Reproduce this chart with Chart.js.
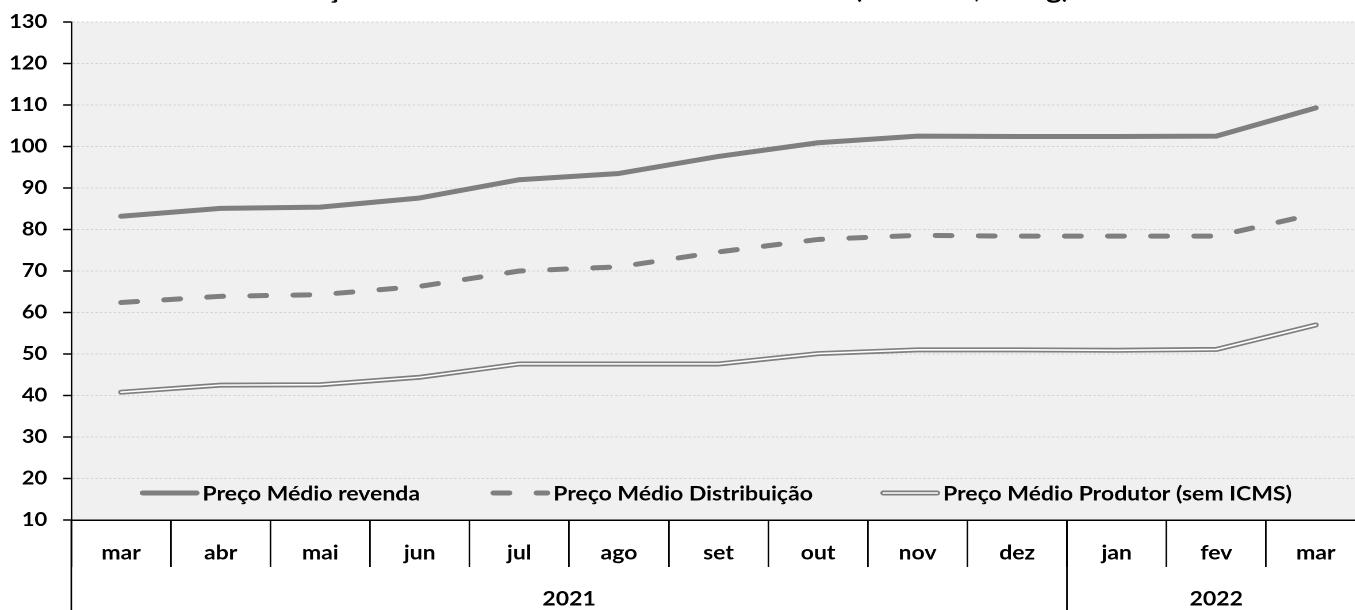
<!DOCTYPE html>
<html lang="pt">
<head>
    <meta charset="UTF-8">
    <title>Preços Médios GLP</title>
    <script src="https://cdn.jsdelivr.net/npm/chart.js"></script>
    <style>
        html, body { margin: 0; padding: 0; background: #fff; overflow: hidden; }
        /* o gráfico original está esticado na horizontal */
        #wrap { position: absolute; left: 0; top: 0; width: 1190px; height: 610px;
                transform: scaleX(1.15); transform-origin: 0 0; }
    </style>
</head>
<body>
    <div id="wrap"><canvas id="chart"></canvas></div>

    <script>
        // dados
        const meses = ["mar", "abr", "mai", "jun", "jul", "ago", "set", "out", "nov", "dez", "jan", "fev", "mar"];
        const anos = ["2021", "2022"];
        const mesesPorAno = [10, 3];
        const precoRevenda = [83.2, 85.1, 85.4, 87.6, 92.0, 93.5, 97.6, 100.9, 102.5, 102.4, 102.4, 102.5, 109.3];
        const precoDistribuicao = [62.4, 63.9, 64.3, 66.3, 70.0, 71.0, 74.6, 77.6, 78.6, 78.4, 78.4, 78.4, 83.8];
        const precoProdutor = [40.8, 42.5, 42.6, 44.4, 47.6, 47.6, 47.6, 50.1, 51.0, 51.0, 50.9, 51.1, 57.0];
        const yTicks = [10, 130, 10]; // min, max, passo
        const titulo = "Evolução Mensal dos Valores Médios do GLP (Em reais, 13 kg)";

        const fonte = "Lato, 'Open Sans', sans-serif";
        const cinza = "#7f7f7f";

        // fundo, legenda, anos e título
        const extras = {
            id: "extras",
            beforeDraw(chart) {
                const { ctx, chartArea: a } = chart;
                ctx.save();
                ctx.fillStyle = "#f0f0f0";
                ctx.fillRect(a.left, a.top, a.right - a.left, a.bottom - a.top);
                ctx.restore();
            },
            afterDraw(chart) {
                const { ctx, chartArea: a } = chart;
                const x = chart.scales.x;
                ctx.save();

                // titulo (quase todo fora da imagem)
                ctx.font = "bold 26px " + fonte;
                ctx.fillStyle = "#000";
                ctx.textAlign = "center";
                ctx.textBaseline = "alphabetic";
                ctx.fillText(titulo, 575, -2);

                // linhas dos anos
                ctx.strokeStyle = "#000";
                ctx.lineWidth = 1.4;
                ctx.beginPath();
                ctx.moveTo(a.left, a.bottom);
                ctx.lineTo(a.left, chart.height);
                let idx = 0;
                const limites = [a.left];
                for (let i = 0; i < anos.length; i++) {
                    idx += mesesPorAno[i];
                    let px = idx < meses.length ? (x.getPixelForTick(idx - 1) + x.getPixelForTick(idx)) / 2 : a.right;
                    limites.push(px);
                    if (idx < meses.length) {
                        ctx.moveTo(px, a.bottom);
                        ctx.lineTo(px, chart.height);
                    }
                }
                ctx.stroke();

                ctx.font = "bold 20px " + fonte;
                ctx.textBaseline = "middle";
                for (let i = 0; i < anos.length; i++) {
                    ctx.fillText(anos[i], (limites[i] + limites[i + 1]) / 2, 599);
                }

                // legenda dentro da area
                const ly = 493;
                const inicio = [124, 429, 768];
                const ds = chart.data.datasets.filter(d => !d.semLegenda);
                ctx.textAlign = "left";
                ds.forEach((d, i) => {
                    const x0 = inicio[i], x1 = x0 + 47;
                    ctx.lineCap = "round";
                    ctx.strokeStyle = d.borderColor;
                    ctx.lineWidth = d.borderWidth;
                    ctx.setLineDash(d.borderDash || []);
                    ctx.beginPath();
                    ctx.moveTo(x0, ly);
                    ctx.lineTo(x1, ly);
                    ctx.stroke();
                    if (d.duplo) {
                        ctx.strokeStyle = "#ffffff";
                        ctx.lineWidth = 1.6;
                        ctx.beginPath();
                        ctx.moveTo(x0, ly);
                        ctx.lineTo(x1, ly);
                        ctx.stroke();
                    }
                    ctx.setLineDash([]);
                    ctx.fillStyle = "#000";
                    ctx.fillText(d.label, x1 + 5, ly + 1);
                });
                ctx.restore();
            }
        };

        const ctx = document.getElementById("chart").getContext("2d");
        const chart = new Chart(ctx, {
            type: "line",
            data: {
                labels: meses,
                datasets: [
                    {
                        label: "Preço Médio revenda", data: precoRevenda,
                        borderColor: cinza, borderWidth: 5, order: 1
                    },
                    {
                        label: "Preço Médio Distribuição", data: precoDistribuicao,
                        borderColor: cinza, borderWidth: 5, borderDash: [14, 23.5], order: 1
                    },
                    {
                        label: "Preço Médio Produtor (sem ICMS)", data: precoProdutor,
                        borderColor: cinza, borderWidth: 5, order: 1, duplo: true
                    },
                    {
                        label: "interno", data: precoProdutor, semLegenda: true,
                        borderColor: "#ffffff", borderWidth: 1.6, order: 0
                    }
                ]
            },
            options: {
                responsive: true,
                maintainAspectRatio: false,
                animation: false,
                devicePixelRatio: 2,
                layout: { padding: { top: 22, right: 2, left: 0, bottom: 0 } },
                elements: {
                    point: { radius: 0, hoverRadius: 0 },
                    line: { tension: 0, borderCapStyle: "round", borderJoinStyle: "round" }
                },
                plugins: {
                    legend: { display: false },
                    tooltip: { enabled: false },
                    title: { display: false }
                },
                scales: {
                    x: {
                        type: "category",
                        offset: true,
                        grid: {
                            display: true, drawOnChartArea: false, drawTicks: true,
                            tickLength: 47, color: "#000", lineWidth: 1.4, offset: true
                        },
                        border: { display: true, color: "#000", width: 1.5 },
                        ticks: {
                            color: "#000", font: { family: fonte, size: 20, weight: "bold" },
                            padding: -26, autoSkip: false, maxRotation: 0
                        },
                        afterFit: s => { s.height = 90; s.paddingLeft = 0; s.paddingRight = 0; }
                    },
                    y: {
                        min: yTicks[0], max: yTicks[1],
                        ticks: {
                            stepSize: yTicks[2], color: "#000",
                            font: { family: fonte, size: 19, weight: "bold" }, padding: 14
                        },
                        grid: {
                            color: "#d2d2d2", lineWidth: 1, tickLength: 7,
                            tickColor: "#000", tickWidth: 1.5, tickBorderDash: []
                        },
                        border: { display: true, color: "#000", width: 1.4, dash: [2, 2] },
                        afterFit: s => { s.width = 62; s.paddingTop = 0; s.paddingBottom = 0; }
                    }
                }
            },
            plugins: [extras]
        });
    </script>
</body>
</html>
